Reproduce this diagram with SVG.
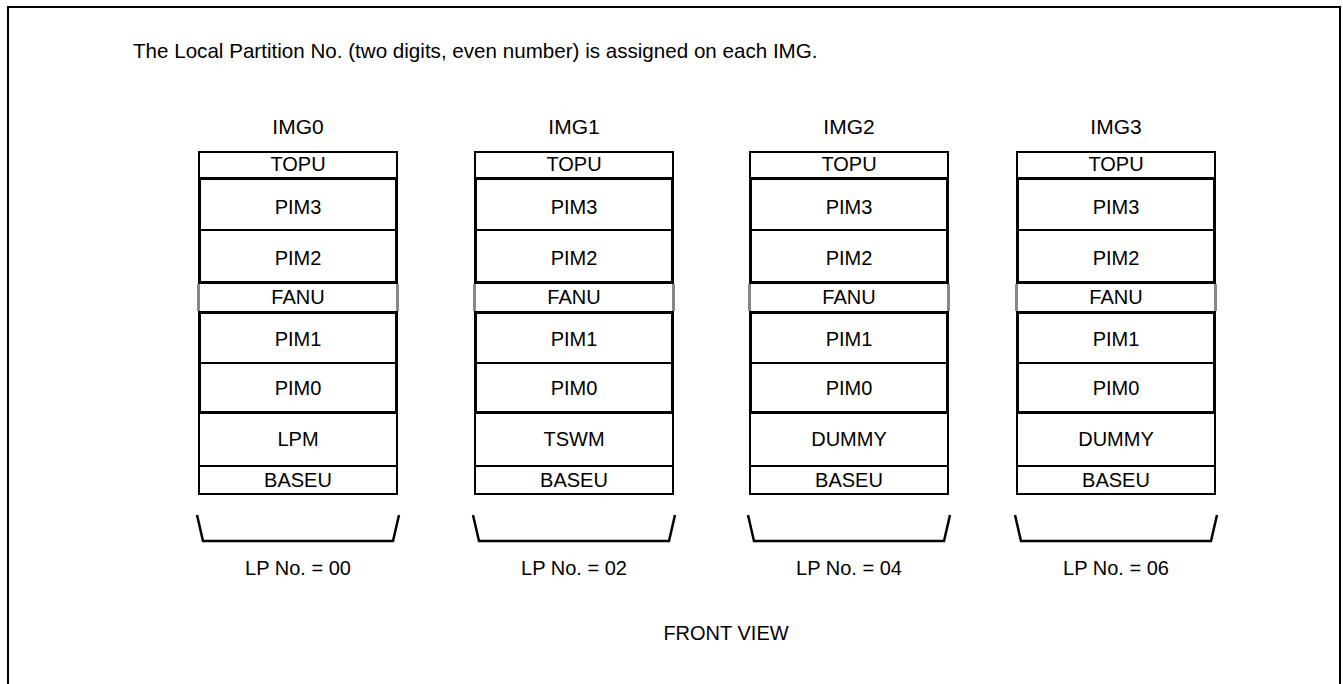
<svg xmlns="http://www.w3.org/2000/svg" width="1343" height="684" viewBox="0 0 1343 684">
<style>
text{font-family:"Liberation Sans",Arial,sans-serif;fill:#000}
.t{font-size:20px;text-anchor:middle}
.h{font-size:21px;text-anchor:middle}
.thin{fill:#fff;stroke:#000;stroke-width:2}
.thick{fill:none;stroke:#000;stroke-width:3}
.div{stroke:#000;stroke-width:2}
.grey{stroke:#888;stroke-width:3}
.br{fill:none;stroke:#000;stroke-width:2.5}
</style>
<defs>
<g id="col">
<rect class="thin" x="1" y="152" width="198" height="26"/>
<rect class="thin" x="1" y="413" width="198" height="53"/>
<rect class="thin" x="1" y="466" width="198" height="28"/>
<line class="grey" x1="0.5" y1="284" x2="0.5" y2="311"/>
<line class="grey" x1="199.5" y1="284" x2="199.5" y2="311"/>
<rect class="thick" x="1.5" y="178.5" width="197" height="104"/>
<line class="div" x1="2" y1="230" x2="198" y2="230"/>
<rect class="thick" x="1.5" y="312.5" width="197" height="100"/>
<line class="div" x1="2" y1="363" x2="198" y2="363"/>
<polyline class="br" points="-1,515 5,541 195,541 201,515"/>
<text class="t" x="100" y="171">TOPU</text>
<text class="t" x="100" y="214">PIM3</text>
<text class="t" x="100" y="265">PIM2</text>
<text class="t" x="100" y="304">FANU</text>
<text class="t" x="100" y="346">PIM1</text>
<text class="t" x="100" y="395">PIM0</text>
<text class="t" x="100" y="487">BASEU</text>
</g>
</defs>
<rect x="0" y="0" width="1343" height="684" fill="#fff"/>
<path d="M8,684 V7 H1340 V684" fill="none" stroke="#000" stroke-width="2"/>
<text x="133" y="58" style="font-size:20.6px">The Local Partition No. (two digits, even number) is assigned on each IMG.</text>
<g id="img0" transform="translate(198,0)">
<use href="#col"/>
<text class="h" x="100" y="134">IMG0</text>
<text class="t" x="100" y="446">LPM</text>
<text class="t" x="100" y="575">LP No. = 00</text>
</g>
<g id="img1" transform="translate(474,0)">
<use href="#col"/>
<text class="h" x="100" y="134">IMG1</text>
<text class="t" x="100" y="446">TSWM</text>
<text class="t" x="100" y="575">LP No. = 02</text>
</g>
<g id="img2" transform="translate(749,0)">
<use href="#col"/>
<text class="h" x="100" y="134">IMG2</text>
<text class="t" x="100" y="446">DUMMY</text>
<text class="t" x="100" y="575">LP No. = 04</text>
</g>
<g id="img3" transform="translate(1016,0)">
<use href="#col"/>
<text class="h" x="100" y="134">IMG3</text>
<text class="t" x="100" y="446">DUMMY</text>
<text class="t" x="100" y="575">LP No. = 06</text>
</g>
<g id="connectors"></g>
<text class="t" x="726" y="640">FRONT VIEW</text>
</svg>
